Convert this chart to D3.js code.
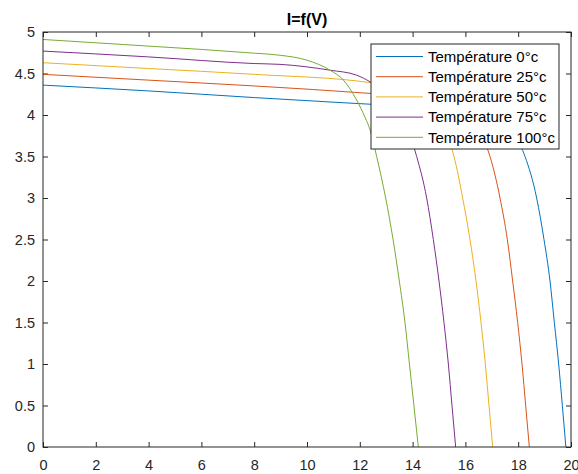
<!DOCTYPE html>
<html>
<head>
<meta charset="utf-8">
<script src="https://cdn.jsdelivr.net/npm/d3@7"></script>
<style>
  body { margin: 0; background: #fff; }
  svg { display: block; font-family: "Liberation Sans", Arial, sans-serif; }
</style>
</head>
<body>
<svg id="chart" width="578" height="474"></svg>
<script>
const seriesLabels = ["Température 0°c", "Température 25°c", "Température 50°c", "Température 75°c", "Température 100°c"];
const seriesColors = ["#0072bd", "#d95319", "#edb120", "#7e2f8e", "#77ac30"];

// [V, I] (knees behind the legend estimated)
const curveT0 = [[0, 4.36], [4, 4.29], [8, 4.21], [11.25, 4.15], [12.39, 4.13], [14, 4.1], [16, 4.05],
  [17, 3.98], [17.5, 3.89], [17.9, 3.74], [18.258, 3.5], [18.699, 3.0], [18.977, 2.5], [19.205, 2.0],
  [19.369, 1.5], [19.533, 1.0], [19.672, 0.5], [19.805, 0]];
const curveT25 = [[0, 4.49], [4, 4.42], [8, 4.35], [12.39, 4.26], [14, 4.22], [15, 4.17], [15.7, 4.08],
  [16.2, 3.95], [16.6, 3.76], [16.932, 3.5], [17.311, 3.0], [17.588, 2.5], [17.79, 2.0], [17.98, 1.5],
  [18.144, 1.0], [18.283, 0.5], [18.422, 0]];
const curveT50 = [[0, 4.63], [4, 4.56], [8, 4.49], [12.39, 4.39], [13.6, 4.31], [14.3, 4.2], [14.8, 4.04],
  [15.2, 3.82], [15.568, 3.5], [15.896, 3.0], [16.174, 2.5], [16.402, 2.0], [16.591, 1.5], [16.755, 1.0],
  [16.894, 0.5], [17.033, 0]];
const curveT75 = [[0, 4.77], [4, 4.7], [8, 4.62], [8.98, 4.61], [10.87, 4.54], [11.88, 4.48], [12.39, 4.4],
  [12.9, 4.29], [13.4, 4.1], [13.8, 3.84], [14.154, 3.5], [14.533, 3.0], [14.785, 2.5], [15.0, 2.0],
  [15.189, 1.5], [15.354, 1.0], [15.492, 0.5], [15.631, 0]];
const curveT100 = [[0, 4.91], [3, 4.85], [6, 4.79], [8, 4.745], [8.98, 4.72], [10, 4.66], [10.87, 4.54],
  [11.38, 4.42], [11.88, 4.18], [12.2, 3.97], [12.39, 3.82], [12.639, 3.5], [12.98, 3.0], [13.26, 2.5],
  [13.497, 2.0], [13.712, 1.5], [13.88, 1.0], [14.05, 0.5], [14.217, 0]];
const curves = [curveT0, curveT25, curveT50, curveT75, curveT100];

const xTickValues = [0, 2, 4, 6, 8, 10, 12, 14, 16, 18, 20];
const yTickValues = [0, 0.5, 1, 1.5, 2, 2.5, 3, 3.5, 4, 4.5, 5];
const chartTitle = "I=f(V)";

const svg = d3.select("#chart");
const axisColor = "#262626";
const fontSize = "14.5px";
const margin = { top: 32, right: 7, bottom: 27, left: 43 };
const width = +svg.attr("width");
const height = +svg.attr("height");
const innerW = width - margin.left - margin.right;
const innerH = height - margin.top - margin.bottom;

const x = d3.scaleLinear().domain([0, 20]).range([0, innerW]);
const y = d3.scaleLinear().domain([0, 5]).range([innerH, 0]);

const g = svg.append("g").attr("transform", `translate(${margin.left}, ${margin.top})`);

g.append("clipPath").attr("id", "plot-clip")
  .append("rect").attr("width", innerW).attr("height", innerH);

function styleAxis(sel) {
  sel.select(".domain").remove();
  sel.selectAll(".tick line").attr("stroke", axisColor);
  sel.selectAll(".tick text").attr("fill", axisColor).style("font-size", fontSize);
}

g.append("g")
  .attr("transform", `translate(0, ${innerH})`)
  .call(d3.axisBottom(x).tickValues(xTickValues).tickSize(-5).tickPadding(13))
  .call(styleAxis);

g.append("g")
  .call(d3.axisTop(x).tickValues(xTickValues).tickSize(-5).tickFormat(""))
  .call(styleAxis);

g.append("g")
  .call(d3.axisLeft(y).tickValues(yTickValues).tickSize(-5).tickPadding(8).tickFormat(d3.format("")))
  .call(styleAxis);

g.append("g")
  .attr("transform", `translate(${innerW}, 0)`)
  .call(d3.axisRight(y).tickValues(yTickValues).tickSize(-5).tickFormat(""))
  .call(styleAxis);

const line = d3.line()
  .x((d) => x(d[0]))
  .y((d) => y(d[1]))
  .curve(d3.curveMonotoneX);

g.append("g")
  .attr("clip-path", "url(#plot-clip)")
  .selectAll("path")
  .data(curves)
  .join("path")
  .attr("d", line)
  .attr("fill", "none")
  .attr("stroke", (d, i) => seriesColors[i])
  .attr("stroke-width", 1);

g.append("rect")
  .attr("x", 0)
  .attr("y", 0)
  .attr("width", innerW)
  .attr("height", innerH)
  .attr("fill", "none")
  .attr("stroke", axisColor)
  .attr("stroke-width", 1);

svg.append("text")
  .attr("x", margin.left + innerW / 2)
  .attr("y", 25)
  .attr("text-anchor", "middle")
  .attr("fill", "#000")
  .style("font-size", "16px")
  .style("font-weight", "bold")
  .text(chartTitle);

// legend
const legend = svg.append("g").attr("transform", "translate(371, 44)");
legend.append("rect")
  .attr("width", 188)
  .attr("height", 105)
  .attr("fill", "#fff")
  .attr("stroke", axisColor)
  .attr("stroke-width", 1);

const rows = legend.selectAll("g.row")
  .data(seriesLabels)
  .join("g")
  .attr("class", "row")
  .attr("transform", (d, i) => `translate(0, ${12.5 + i * 20.2})`);

rows.append("line")
  .attr("x1", 5)
  .attr("x2", 52)
  .attr("stroke", (d, i) => seriesColors[i])
  .attr("stroke-width", 1);

rows.append("text")
  .attr("x", 57)
  .attr("dy", "0.35em")
  .attr("fill", "#000")
  .style("font-size", "15px")
  .text((d) => d);
</script>
</body>
</html>
